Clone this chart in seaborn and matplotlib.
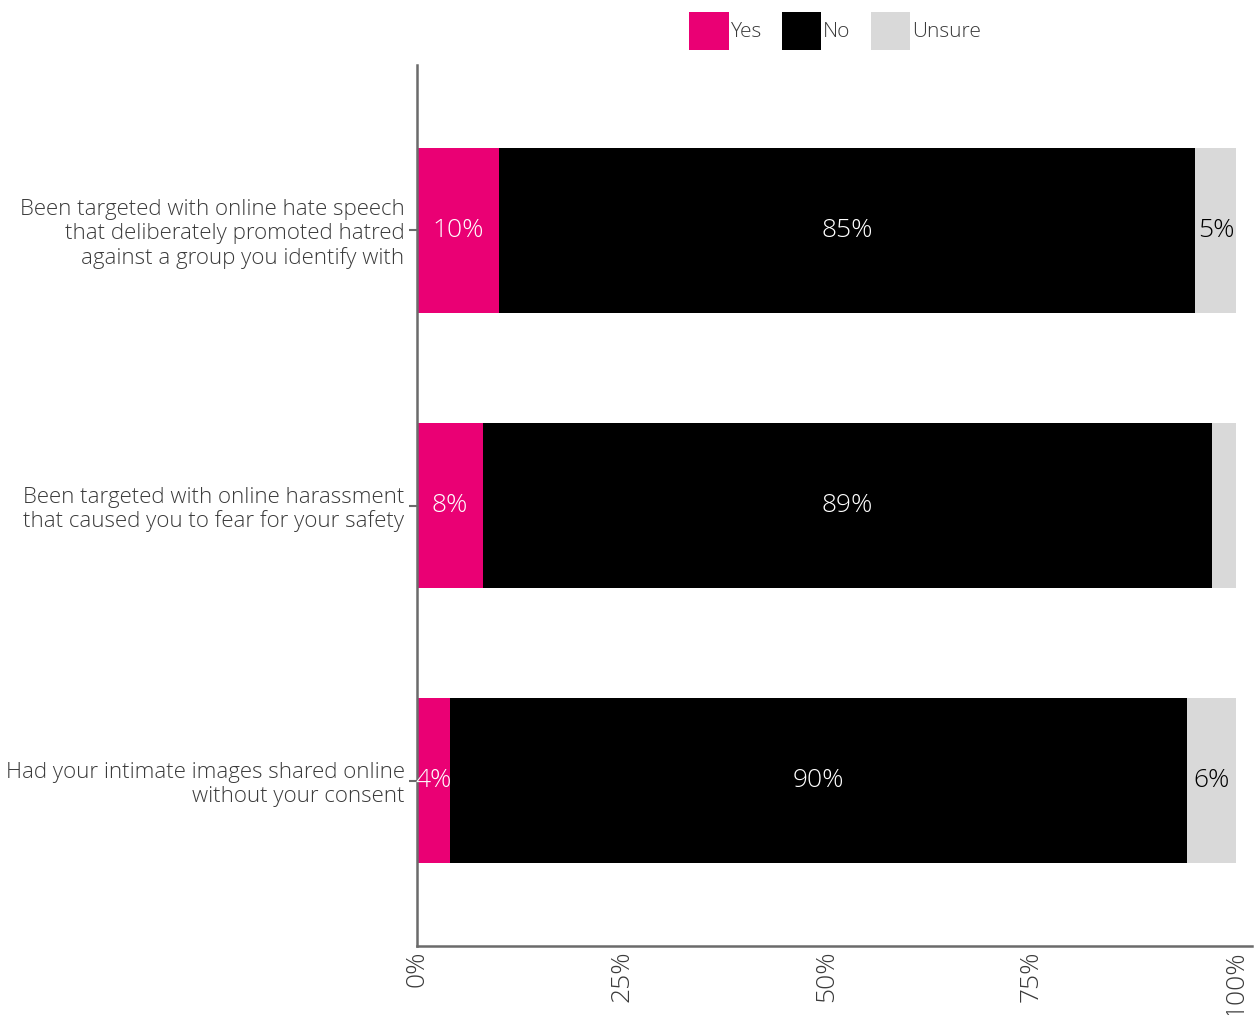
import numpy as np
import pandas as pd
import matplotlib
matplotlib.use("Agg")
import matplotlib.pyplot as plt
from matplotlib.patches import Patch
import seaborn as sns

# Survey items (top to bottom) and response shares in percent
questions = [
    "Been targeted with online hate speech\nthat deliberately promoted hatred\nagainst a group you identify with",
    "Been targeted with online harassment\nthat caused you to fear for your safety",
    "Had your intimate images shared online\nwithout your consent",
]
yes_pct = [10, 8, 4]
no_pct = [85, 89, 90]
unsure_pct = [5, 3, 6]
unsure_labels = ["5%", "", "6%"]
responses = ["Yes", "No", "Unsure"]
x_ticks = [0, 25, 50, 75, 100]
x_tick_labels = ["0%", "25%", "50%", "75%", "100%"]

PINK = "#EA0074"
BLACK = "#000000"
GREY = "#D9D9D9"
TEXT = "#3A3A3A"
AXIS = "#6B6B6B"

sns.set_theme(style="white")
plt.rcParams["font.family"] = ["Open Sans", "DejaVu Sans"]
W = "light"

df = pd.DataFrame({
    "question": questions,
    "Yes": yes_pct,
    "No": no_pct,
    "Unsure": unsure_pct,
})
df["cum_yes"] = df["Yes"]
df["cum_no"] = df["Yes"] + df["No"]
df["cum_unsure"] = df["Yes"] + df["No"] + df["Unsure"]

fig = plt.figure(figsize=(12.54, 10.15), dpi=100)
ax = fig.add_axes([417 / 1254, 1 - 946 / 1015, (1252 - 417) / 1254, (946 - 65) / 1015])

# Stacked bars: draw cumulative totals from the outermost layer inward
for col, color in [("cum_unsure", GREY), ("cum_no", BLACK), ("cum_yes", PINK)]:
    sns.barplot(data=df, x=col, y="question", orient="h", color=color,
                width=0.6, saturation=1, ax=ax, linewidth=0, order=questions)

# Value labels centred in each segment
VS = 19
for i, row in df.iterrows():
    ax.text(row["Yes"] / 2, i, f"{row['Yes']}%", ha="center", va="center",
            color="white", fontsize=VS, fontweight=W)
    ax.text(row["Yes"] + row["No"] / 2, i, f"{row['No']}%", ha="center", va="center",
            color="white", fontsize=VS, fontweight=W)
    if unsure_labels[i]:
        ax.text(row["cum_no"] + row["Unsure"] / 2, i, unsure_labels[i], ha="center",
                va="center", color="black", fontsize=VS, fontweight=W)

ax.set_xlim(0, 101.9)
ax.set_ylim(2.6, -0.6)
ax.set_xticks(x_ticks)
ax.set_xticklabels(x_tick_labels, rotation=90, ha="center", va="top",
                   fontsize=19, color=TEXT, fontweight=W)
ax.tick_params(axis="x", length=0, pad=3)
ax.tick_params(axis="y", length=6, width=1.5, color=AXIS, pad=3,
               labelsize=16.0, labelcolor=TEXT, left=True)
for lab in ax.get_yticklabels():
    lab.set_ha("right")
    lab.set_multialignment("right")
    lab.set_fontweight(W)
    lab.set_linespacing(1.16)
ax.set_xlabel("")
ax.set_ylabel("")
sns.despine(ax=ax, top=True, right=True)
for side in ["left", "bottom"]:
    ax.spines[side].set_color(AXIS)
    ax.spines[side].set_linewidth(1.8)

handles = [Patch(facecolor=c, edgecolor="none", label=l)
           for c, l in zip([PINK, BLACK, GREY], responses)]
leg = fig.legend(handles=handles, loc="center", bbox_to_anchor=(835 / 1254, 1 - 31 / 1015),
                 ncol=3, frameon=False, fontsize=15, handlelength=1.9, handleheight=2.5,
                 handletextpad=0.1, columnspacing=0.95, borderpad=0)
for t in leg.get_texts():
    t.set_color(TEXT)
    t.set_fontweight(W)

fig.savefig("out.png", dpi=100)
